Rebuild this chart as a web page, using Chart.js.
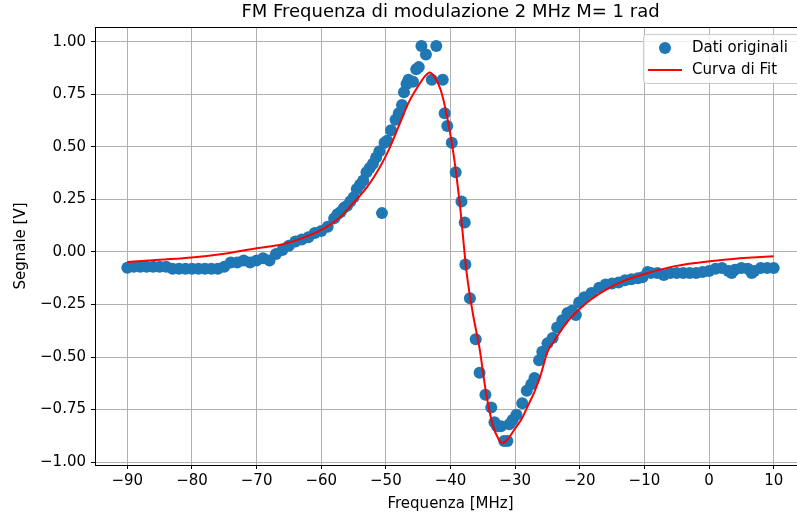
<!DOCTYPE html>
<html>
<head>
<meta charset="utf-8">
<script src="https://cdn.jsdelivr.net/npm/chart.js@4.4.1/dist/chart.umd.min.js"></script>
<style>
  body { margin: 0; overflow: hidden; background: #fff; }
  #wrap { width: 812px; height: 521px; }
</style>
</head>
<body>
<div id="wrap"><canvas id="fmChart" width="812" height="521"></canvas></div>
<script>
// measured points (frequency in MHz, signal in V)
const origX = [-90, -89, -88, -87, -86, -85, -84, -83, -82, -81, -80, -79, -78, -77, -76, -75, -74, -73, -72, -71, -70,
  -69, -68, -67, -66, -65, -64, -63, -62, -61, -60, -59, -58, -57.5, -57, -56.5, -56, -55.5, -55, -54.5, -54, -53.5,
  -53, -52.5, -52, -51.5, -51, -50.6, -50.2, -49.8, -49.2, -48.5, -48, -47.5, -47.2, -46.8, -46.5, -45.8, -45.3,
  -44.9, -44.5, -43.8, -42.9, -42.2, -41.2, -40.9, -40.5, -39.8, -39.2, -38.3, -37.8, -37.7, -37, -36.1, -35.5,
  -34.6, -33.7, -33.2, -32.8, -32.2, -31.7, -31.2, -30.9, -30.4, -29.8, -28.9, -28.2, -27.5, -27, -26.3, -25.8,
  -25, -24.2, -23.5, -22.7, -21.9, -21.2, -20.6, -20.1, -19.3, -18.2, -17, -16, -15, -14, -13, -12, -11, -10.3,
  -9.5, -9, -8, -7, -6, -5, -4, -3, -2, -1, 0, 1, 2, 3, 3.5, 4, 5, 6, 6.6, 7, 8, 9, 10];
const origY = [-0.075, -0.07, -0.07, -0.07, -0.07, -0.07, -0.07, -0.08, -0.08, -0.08, -0.08, -0.08, -0.08, -0.08, -0.08, -0.07, -0.05, -0.05, -0.04, -0.05, -0.04,
  -0.03, -0.04, -0.01, 0.01, 0.03, 0.05, 0.06, 0.07, 0.09, 0.1, 0.12, 0.16, 0.18, 0.19, 0.21, 0.22, 0.24, 0.26, 0.3, 0.32, 0.34,
  0.38, 0.4, 0.42, 0.45, 0.48, 0.185, 0.52, 0.53, 0.58, 0.63, 0.66, 0.7, 0.76, 0.8, 0.82, 0.81, 0.87,
  0.88, 0.98, 0.94, 0.82, 0.98, 0.82, 0.66, 0.6, 0.52, 0.38, 0.24, 0.14, -0.06, -0.22, -0.415, -0.575,
  -0.68, -0.74, -0.81, -0.83, -0.83, -0.9, -0.9, -0.82, -0.8, -0.775, -0.72, -0.66, -0.63, -0.6, -0.515, -0.475,
  -0.435, -0.41, -0.36, -0.325, -0.29, -0.28, -0.3, -0.24, -0.215, -0.195, -0.17, -0.155, -0.15, -0.145, -0.135, -0.13, -0.125, -0.12,
  -0.095, -0.1, -0.1, -0.11, -0.1, -0.1, -0.1, -0.1, -0.1, -0.095, -0.09, -0.08, -0.076, -0.09, -0.1, -0.085, -0.076, -0.08, -0.1, -0.09, -0.076, -0.076, -0.076];

// fitted curve
const fitX = [-90, -85, -80, -75, -70, -66, -63, -60, -57, -55, -53, -51, -49.5, -48, -46.5, -45, -44, -43.2, -42.5,
  -41.5, -40.5, -39.5, -38.5, -37.5, -36.5, -35.5, -34.5, -33.5, -32.5, -32, -31, -30, -29, -28, -27, -26, -25, -24,
  -22, -20, -18, -16, -13, -10, -6, -2, 2, 6, 10];
const fitY = [-0.048, -0.037, -0.026, -0.008, 0.018, 0.037, 0.065, 0.105, 0.168, 0.235, 0.305, 0.4, 0.49, 0.6, 0.71, 0.79, 0.835, 0.855, 0.835,
  0.77, 0.64, 0.46, 0.21, -0.1, -0.3, -0.46, -0.67, -0.82, -0.895, -0.91, -0.885, -0.84, -0.795, -0.73, -0.665, -0.58, -0.475, -0.425,
  -0.335, -0.27, -0.22, -0.18, -0.135, -0.105, -0.072, -0.052, -0.038, -0.028, -0.02];

const xTicks = [-90, -80, -70, -60, -50, -40, -30, -20, -10, 0, 10];
const yTicks = [-1.0, -0.75, -0.5, -0.25, 0.0, 0.25, 0.5, 0.75, 1.0];

const FONT = 'DejaVu Sans';
const minus = s => s.replace('-', '\u2212');

// title, axis labels, top/right spines and the legend, drawn matplotlib style
const decor = {
  id: 'decor',
  afterDraw(chart) {
    const c = chart.ctx;
    const a = chart.chartArea;
    c.save();
    c.strokeStyle = '#000';
    c.lineWidth = 1;
    c.beginPath();
    c.moveTo(a.left, a.top + 0.5);
    c.lineTo(a.right, a.top + 0.5);
    c.lineTo(a.right, a.bottom);
    c.stroke();

    c.fillStyle = '#000';
    c.font = '18px ' + FONT;
    c.textAlign = 'center';
    c.textBaseline = 'middle';
    c.fillText('FM Frequenza di modulazione 2 MHz M= 1 rad', (a.left + a.right) / 2, 12);

    c.font = '15px ' + FONT;
    c.fillText('Frequenza [MHz]', (a.left + a.right) / 2, 504);
    c.save();
    c.translate(21, (a.top + a.bottom) / 2);
    c.rotate(-Math.PI / 2);
    c.fillText('Segnale [V]', 0, 0);
    c.restore();

    // legend
    const lx = 643, ly = 34, lw = 159, lh = 49;
    c.fillStyle = 'rgba(255,255,255,0.8)';
    c.strokeStyle = '#cccccc';
    c.beginPath();
    c.roundRect(lx + 0.5, ly + 0.5, lw, lh, 3);
    c.fill();
    c.stroke();
    c.fillStyle = '#1f77b4';
    c.beginPath();
    c.arc(665, 48, 6, 0, Math.PI * 2);
    c.fill();
    c.strokeStyle = 'red';
    c.lineWidth = 2;
    c.beginPath();
    c.moveTo(648, 70);
    c.lineTo(682, 70);
    c.stroke();
    c.fillStyle = '#000';
    c.font = '15px ' + FONT;
    c.textAlign = 'left';
    c.fillText('Dati originali', 692, 48);
    c.fillText('Curva di Fit', 692, 70);
    c.restore();
  }
};

new Chart(document.getElementById('fmChart'), {
  type: 'scatter',
  data: {
    datasets: [{
      label: 'Curva di Fit',
      data: fitX.map((x, i) => ({ x: x, y: fitY[i] })),
      showLine: true,
      borderColor: 'red',
      borderWidth: 2,
      pointRadius: 0,
      cubicInterpolationMode: 'monotone',
      order: 0
    },
    {
      label: 'Dati originali',
      data: origX.map((x, i) => ({ x: x, y: origY[i] })),
      backgroundColor: '#1f77b4',
      borderWidth: 0,
      pointRadius: 6,
      order: 1
    }]
  },
  options: {
    responsive: false,
    animation: false,
    layout: { padding: { left: 0, right: 5, top: 27, bottom: 0 } },
    plugins: {
      legend: { display: false },
      title: { display: false },
      tooltip: { enabled: false }
    },
    scales: {
      x: {
        type: 'linear',
        min: -95,
        max: 15,
        afterFit: s => { s.height = 56; },
        afterBuildTicks: s => { s.ticks = xTicks.map(v => ({ value: v })); },
        grid: { color: '#b0b0b0', lineWidth: 1, tickColor: '#000', tickLength: 4 },
        border: { color: '#000', width: 1 },
        ticks: {
          color: '#000',
          padding: 3,
          maxRotation: 0,
          font: { family: FONT, size: 15 },
          callback: v => minus(String(v))
        }
      },
      y: {
        type: 'linear',
        min: -1.014,
        max: 1.071,
        afterFit: s => { s.width = 95; },
        afterBuildTicks: s => { s.ticks = yTicks.map(v => ({ value: v })); },
        grid: { color: '#b0b0b0', lineWidth: 1, tickColor: '#000', tickLength: 4 },
        border: { color: '#000', width: 1 },
        ticks: {
          color: '#000',
          padding: 5,
          font: { family: FONT, size: 15 },
          callback: v => minus(v.toFixed(2))
        }
      }
    }
  },
  plugins: [decor]
});
</script>
</body>
</html>
